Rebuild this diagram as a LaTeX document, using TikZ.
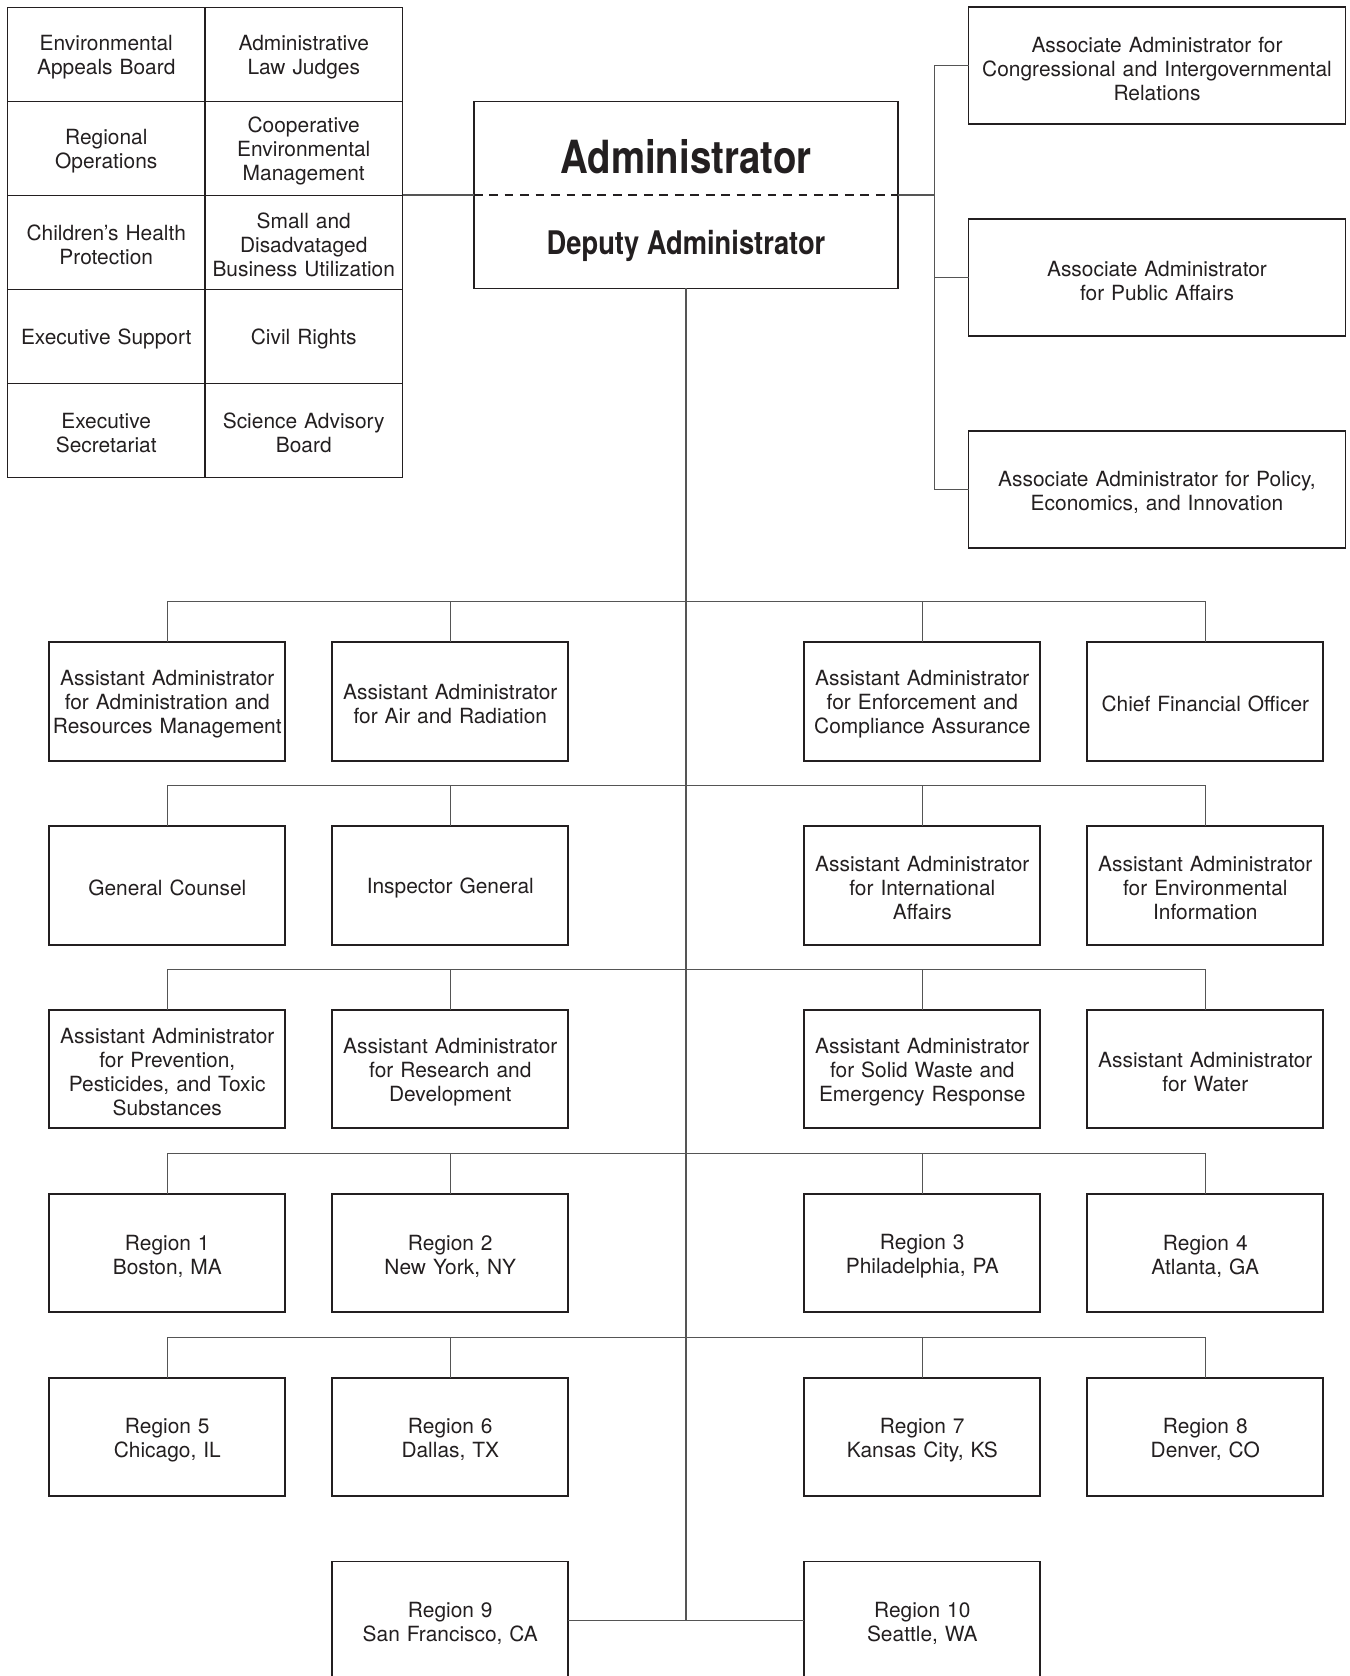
\documentclass[tikz,border=0pt]{standalone}
\usepackage{fontspec}
\setmainfont{TeX Gyre Heros}
\newfontfamily\condfont[FakeStretch=0.84]{TeX Gyre Heros}
\usetikzlibrary{positioning}
\definecolor{ink}{HTML}{231F20}
\definecolor{wire}{HTML}{555555}

\begin{document}
\begin{tikzpicture}[
  font=\fontsize{11.9}{13.7}\selectfont, text=ink,
  cell/.style={rectangle, draw=ink, line width=1.1pt, outer sep=0pt,
    inner sep=1pt, text width=3.85cm, align=center, text height=12pt,
    minimum width=3.95cm, minimum height=1.88cm},
  assoc/.style={rectangle, draw=ink, line width=1.1pt, outer sep=0pt,
    text width=7.3cm, align=center, text height=12pt,
    minimum width=7.54cm, minimum height=2.34cm},
  office/.style={rectangle, draw=ink, line width=1.1pt, outer sep=0pt,
    inner sep=1pt, text width=4.6cm, align=center, text height=12pt,
    minimum width=4.72cm, minimum height=2.37cm},
  chief/.style={rectangle, draw=ink, line width=1.1pt, outer sep=0pt,
    minimum width=8.49cm, minimum height=3.74cm},
  link/.style={draw=wire, line width=0.75pt},
]
\path[use as bounding box, clip] (0,0) rectangle (27,-33.52);

% Staff offices
\node[cell] (eab) at (2.125,-1.09) {Environmental\\Appeals Board};
\node[cell, right=0pt of eab] (alj) {Administrative\\Law Judges};
\node[cell, below=0pt of eab] (regops) {Regional\\Operations};
\node[cell, right=0pt of regops] (cem) {Cooperative\\Environmental\\Management};
\node[cell, below=0pt of regops] (chp) {Children’s Health\\Protection};
\node[cell, right=0pt of chp] (sdbu) {Small and\\Disadvataged\\Business Utilization};
\node[cell, below=0pt of chp] (exsup) {Executive Support};
\node[cell, right=0pt of exsup] (civil) {Civil Rights};
\node[cell, below=0pt of exsup] (exsec) {Executive\\Secretariat};
\node[cell, right=0pt of exsec] (sab) {Science Advisory\\Board};

% Administrator
\node[chief] (admin) at (13.72,-3.9) {};
\node[anchor=base, font=\condfont\bfseries\fontsize{26}{30}\selectfont] (admtitle) at (13.72,-3.467) {Administrator};
\node[anchor=base, font=\condfont\bfseries\fontsize{18.5}{22}\selectfont] (deputy) at (13.72,-5.10) {Deputy Administrator};
\draw[ink, line width=0.9pt, dash pattern=on 5pt off 3.8pt] (admin.west) -- (admin.east);

% Associate administrators
\node[assoc] (congress) at (23.14,-1.316) {Associate Administrator for\\Congressional and Intergovernmental\\Relations};
\node[assoc, below=1.9cm of congress] (pubaff) {Associate Administrator\\for Public Affairs};
\node[assoc, below=1.9cm of pubaff] (policy) {Associate Administrator for Policy,\\Economics, and Innovation};

% Assistant administrators and regions
\node[office] (arm) at (3.346,-14.03) {Assistant Administrator\\for Administration and\\Resources Management};
\node[office, right=0.94cm of arm] (air) {Assistant Administrator\\for Air and Radiation};
\node[office, right=4.72cm of air] (enf) {Assistant Administrator\\for Enforcement and\\Compliance Assurance};
\node[office, right=0.94cm of enf] (cfo) {Chief Financial Officer};

\node[office, below=1.307cm of arm] (gc) {General Counsel};
\node[office, below=1.307cm of air] (ig) {Inspector General};
\node[office, below=1.307cm of enf] (intl) {Assistant Administrator\\for International\\Affairs};
\node[office, below=1.307cm of cfo] (envinfo) {Assistant Administrator\\for Environmental\\Information};

\node[office, below=1.307cm of gc] (ppts) {Assistant Administrator\\for Prevention,\\Pesticides, and Toxic\\Substances};
\node[office, below=1.307cm of ig] (rd) {Assistant Administrator\\for Research and\\Development};
\node[office, below=1.307cm of intl] (swer) {Assistant Administrator\\for Solid Waste and\\Emergency Response};
\node[office, below=1.307cm of envinfo] (water) {Assistant Administrator\\for Water};

\node[office, below=1.307cm of ppts] (reg1) {Region 1\\Boston, MA};
\node[office, below=1.307cm of rd] (reg2) {Region 2\\New York, NY};
\node[office, below=1.307cm of swer] (reg3) {Region 3\\Philadelphia, PA};
\node[office, below=1.307cm of water] (reg4) {Region 4\\Atlanta, GA};

\node[office, below=1.307cm of reg1] (reg5) {Region 5\\Chicago, IL};
\node[office, below=1.307cm of reg2] (reg6) {Region 6\\Dallas, TX};
\node[office, below=1.307cm of reg3] (reg7) {Region 7\\Kansas City, KS};
\node[office, below=1.307cm of reg4] (reg8) {Region 8\\Denver, CO};

\node[office, below=1.307cm of reg6] (reg9) {Region 9\\San Francisco, CA};
\node[office, below=1.307cm of reg7] (reg10) {Region 10\\Seattle, WA};

% Connectors to the administrator
\draw[link] (admin.west) -- (admin.west -| cem.east);
\coordinate[right=0.72cm of admin.east] (rbus);
\draw[link] (admin.east) -- (rbus);
\draw[link] (congress.west) -| (rbus) |- (policy.west);
\draw[link] (rbus) |- (pubaff.west);

% Trunk
\draw[link] (admin.south) -- (admin.south |- reg9.east);
\draw[link] (reg9.east) -- (reg10.west);

% Row buses
\coordinate[above=0.81cm of arm.north] (bus1);
\coordinate[above=0.81cm of gc.north] (bus2);
\coordinate[above=0.81cm of ppts.north] (bus3);
\coordinate[above=0.81cm of reg1.north] (bus4);
\coordinate[above=0.81cm of reg5.north] (bus5);

\draw[link] (arm.north) -- (bus1) -- (bus1 -| cfo.north) -- (cfo.north);
\draw[link] (air.north) -- (air.north |- bus1);
\draw[link] (enf.north) -- (enf.north |- bus1);

\draw[link] (gc.north) -- (bus2) -- (bus2 -| envinfo.north) -- (envinfo.north);
\draw[link] (ig.north) -- (ig.north |- bus2);
\draw[link] (intl.north) -- (intl.north |- bus2);

\draw[link] (ppts.north) -- (bus3) -- (bus3 -| water.north) -- (water.north);
\draw[link] (rd.north) -- (rd.north |- bus3);
\draw[link] (swer.north) -- (swer.north |- bus3);

\draw[link] (reg1.north) -- (bus4) -- (bus4 -| reg4.north) -- (reg4.north);
\draw[link] (reg2.north) -- (reg2.north |- bus4);
\draw[link] (reg3.north) -- (reg3.north |- bus4);

\draw[link] (reg5.north) -- (bus5) -- (bus5 -| reg8.north) -- (reg8.north);
\draw[link] (reg6.north) -- (reg6.north |- bus5);
\draw[link] (reg7.north) -- (reg7.north |- bus5);

\end{tikzpicture}
\end{document}
